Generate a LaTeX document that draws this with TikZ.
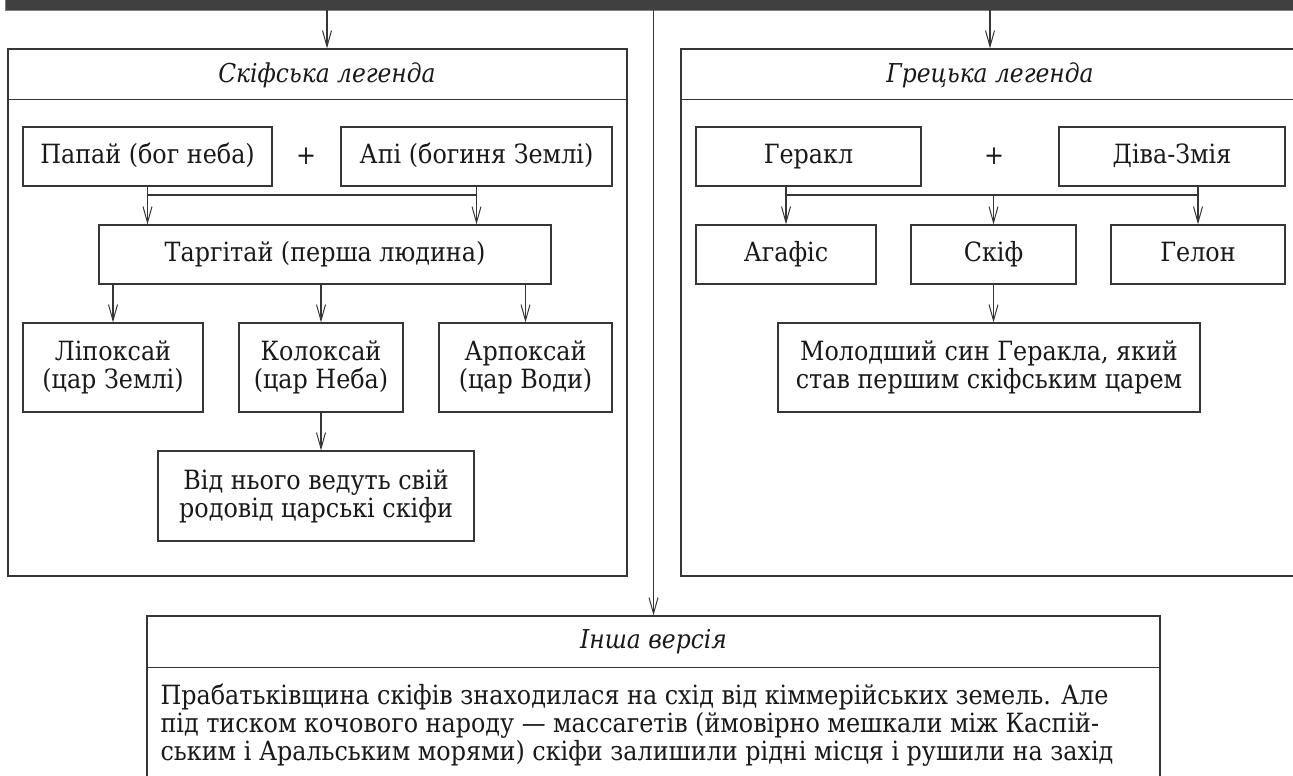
\documentclass[tikz,border=0pt]{standalone}
\usepackage{fontspec}
\setmainfont{DejaVu Serif Condensed}
\usetikzlibrary{arrows.meta}
\definecolor{linegray}{HTML}{363636}
\definecolor{bargray}{HTML}{404040}

\begin{document}
\begin{tikzpicture}[x=1pt,y=-1pt]
\tikzstyle{every node} = [font=\fontsize{26.5}{28}\selectfont, text=black!90]
\tikzstyle{frame} = [draw=linegray, line width=1.2pt, align=center, inner sep=0pt]
\tikzstyle{box} = [frame, minimum height=59pt, text height=19pt, text depth=6pt]
\tikzstyle{tallbox} = [frame, minimum height=89pt]
\tikzstyle{panel} = [draw=linegray, line width=1.2pt, inner sep=0pt]
\tikzstyle{title} = [font=\fontsize{26}{28}\selectfont\itshape]
\tikzstyle{arr} = [draw=linegray, line width=1.2pt, -{Straight Barb[length=16pt,width=9pt,line width=1pt]}]
\tikzstyle{line} = [draw=linegray, line width=1.2pt]
\useasboundingbox (0,0) rectangle (1293,776);

% top bar
\node[fill=bargray, draw=gray, minimum width=1295pt, minimum height=15pt, inner sep=0pt] (bar) at (652.5,2.5) {};

% the two legends and the other version
\node[panel, minimum width=619pt, minimum height=527pt] (left) at (317.5,312.5) {};
\node[panel, minimum width=618pt, minimum height=527pt] (right) at (990,312.5) {};
\node[panel, fill=white, minimum width=1013pt, minimum height=190pt] (other) at (653.5,711) {};
\draw[line] ([yshift=-51pt]left.north west) -- ([yshift=-51pt]left.north east);
\draw[line] ([yshift=-51pt]right.north west) -- ([yshift=-51pt]right.north east);
\draw[line] ([yshift=-52pt]other.north west) -- ([yshift=-52pt]other.north east);
\node[title] (ltitle) at (327,75) {Скіфська легенда};
\node[title] (rtitle) at (990,75) {Грецька легенда};
\node[title] (otitle) at (653.5,642) {Інша версія};

\draw[arr] (bar.south -| ltitle) -- (left.north -| ltitle);
\draw[arr] (bar.south -| rtitle) -- (right.north -| rtitle);
\draw[arr] (bar.south -| other.north) -- (other.north);

% Scythian legend
\node[box, minimum width=249pt] (papai) at (147.5,156.5) {Папай (бог неба)};
\node (plus1) at (306,156.5) {+};
\node[box, minimum width=271pt] (api) at (476.5,156.5) {Апі (богиня Землі)};
\node[box, minimum width=452pt] (targ) at (325,254.5) {Таргітай (перша людина)};
\coordinate (join1) at (325,195);
\draw[line] (papai.south) |- (join1) -| (api.south);
\draw[arr] (papai.south |- join1) -- (papai.south |- targ.north);
\draw[arr] (api.south |- join1) -- (api.south |- targ.north);

\node[tallbox, minimum width=180pt] (lipo) at (113,367.5) {Ліпоксай\\(цар Землі)};
\node[tallbox, minimum width=164pt] (kolo) at (321,367.5) {Колоксай\\(цар Неба)};
\node[tallbox, minimum width=173pt] (arpo) at (525.5,367.5) {Арпоксай\\(цар Води)};
\draw[arr] (lipo.north |- targ.south) -- (lipo.north);
\draw[arr] (kolo.north |- targ.south) -- (kolo.north);
\draw[arr] (arpo.north |- targ.south) -- (arpo.north);

\node[tallbox, minimum width=316pt, minimum height=90pt] (kings) at (316,496) {Від нього ведуть свій\\родовід царські скіфи};
\draw[arr] (kolo.south) -- (kolo.south |- kings.north);

% Greek legend
\node[box, minimum width=225pt] (gerakl) at (808.5,156.5) {Геракл};
\node (plus2) at (994,156.5) {+};
\node[box, minimum width=226pt] (diva) at (1172,156.5) {Діва-Змія};
\node[box, minimum width=180pt] (agafis) at (786,254.5) {Агафіс};
\node[box, minimum width=165pt] (skif) at (993.5,254.5) {Скіф};
\node[box, minimum width=174pt] (gelon) at (1198,254.5) {Гелон};
\coordinate (join2) at (994,195);
\draw[line] (gerakl.south -| agafis) |- (join2) -| (diva.south -| gelon);
\draw[arr] (agafis.north |- join2) -- (agafis.north);
\draw[arr] (skif.north |- join2) -- (skif.north);
\draw[arr] (gelon.north |- join2) -- (gelon.north);

\node[tallbox, minimum width=422pt] (young) at (989,367.5) {Молодший син Геракла, який\\став першим скіфським царем};
\draw[arr] (skif.south) -- (skif.south |- young.north);

% other version
\node[align=left, anchor=west] (otext) at (157,725) {Прабатьківщина скіфів знаходилася на схід від кіммерійських земель. Але\\під тиском кочового народу — массагетів (ймовірно мешкали між Каспій-\\ським і Аральським морями) скіфи залишили рідні місця і рушили на захід};
\end{tikzpicture}
\end{document}
